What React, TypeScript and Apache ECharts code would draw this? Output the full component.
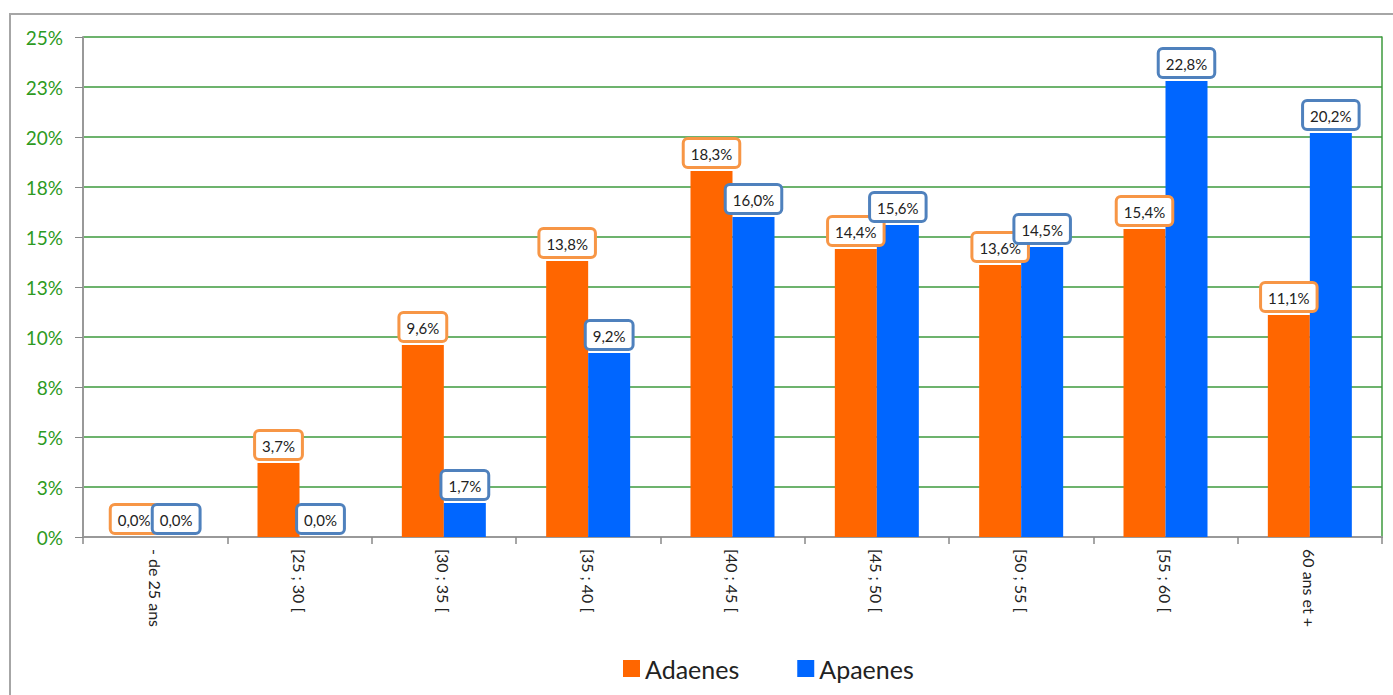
import React, { useEffect, useRef } from "react";
import * as echarts from "echarts";

const categories = ["- de 25 ans", "[25 ; 30 [", "[30 ; 35 [", "[35 ; 40 [", "[40 ; 45 [", "[45 ; 50 [", "[50 ; 55 [", "[55 ; 60 [", "60 ans et +"];
const adaenes = [0, 3.7, 9.6, 13.8, 18.3, 14.4, 13.6, 15.4, 11.1];
const apaenes = [0, 0, 1.7, 9.2, 16.0, 15.6, 14.5, 22.8, 20.2];

const FONT = "Lato, 'Open Sans', sans-serif";

function makeLabel(border: string) {
  return {
    show: true,
    position: "top" as const,
    distance: 5,
    formatter: (p: any) => Number(p.value).toFixed(1).replace(".", ",") + "%",
    backgroundColor: "#fff",
    borderColor: border,
    borderWidth: 3,
    borderRadius: 3,
    padding: [6, 6, 5, 6],
    color: "#222",
    fontSize: 15,
    fontFamily: FONT,
  };
}

export default function App() {
  const ref = useRef<HTMLDivElement>(null);
  useEffect(() => {
    document.body.style.margin = "0";
    const chart = echarts.init(ref.current!, undefined, { renderer: "svg" });
    chart.setOption({
      animation: false,
      backgroundColor: "#fff",
      graphic: [
        {
          type: "rect",
          shape: { x: 10, y: 14, width: 1400, height: 700 },
          style: { fill: "none", stroke: "#a6a6a6", lineWidth: 2 },
          silent: true,
        },
      ],
      grid: { left: 83, right: 11, top: 37, bottom: 158 },
      legend: {
        top: 651,
        left: 618,
        itemWidth: 17,
        itemHeight: 17,
        itemGap: 58,
        icon: "rect",
        textStyle: { fontSize: 25, color: "#222", fontFamily: FONT },
        data: ["Adaenes", "Apaenes"],
      },
      xAxis: {
        type: "category",
        data: categories,
        axisLine: { lineStyle: { color: "#999", width: 2 } },
        axisTick: { show: true, length: 7, lineStyle: { color: "#888", width: 1.5 } },
        axisLabel: {
          rotate: -90,
          interval: 0,
          margin: 12,
          fontSize: 16,
          color: "#222",
          fontFamily: FONT,
        },
      },
      yAxis: [
        {
          type: "value",
          min: 0,
          max: 25,
          interval: 2.5,
          axisLine: { show: true, lineStyle: { color: "#999", width: 2 } },
          axisTick: { show: true, length: 8, lineStyle: { color: "#888" } },
          axisLabel: {
            formatter: (v: number) => Math.round(v) + "%",
            fontSize: 19,
            color: "#2d9a22",
            margin: 20,
            fontFamily: FONT,
          },
          splitLine: { lineStyle: { color: "#3c9a3c", width: 1.5 } },
        },
        {
          type: "value",
          min: 0,
          max: 25,
          interval: 2.5,
          position: "right",
          axisLine: { show: true, lineStyle: { color: "#3c9a3c", width: 1.5 } },
          axisTick: { show: false },
          axisLabel: { show: false },
          splitLine: { show: false },
        },
      ],
      series: [
        {
          name: "Adaenes",
          type: "bar",
          data: adaenes,
          barWidth: 42,
          barGap: "0%",
          itemStyle: { color: "#ff6600" },
          label: makeLabel("#f79646"),
        },
        {
          name: "Apaenes",
          type: "bar",
          data: apaenes,
          barWidth: 42,
          barGap: "0%",
          itemStyle: { color: "#0066ff" },
          label: makeLabel("#4f81bd"),
        },
      ],
    });
    return () => chart.dispose();
  }, []);
  return <div ref={ref} style={{ width: 1393, height: 695 }} />;
}
